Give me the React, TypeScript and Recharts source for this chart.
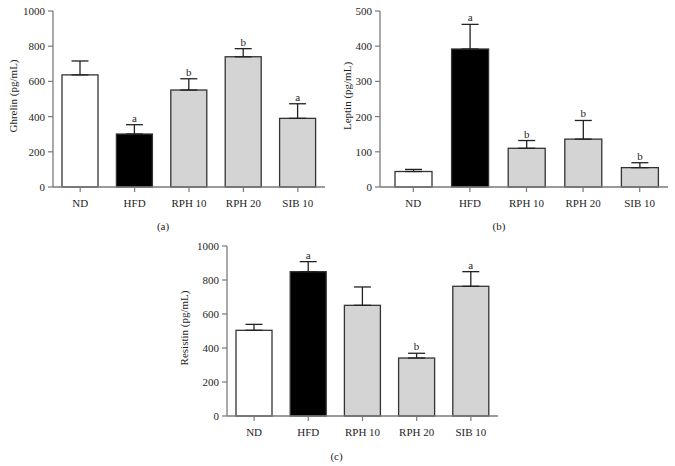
import React from 'react';
import { BarChart, Bar, XAxis, YAxis, ErrorBar, Cell } from 'recharts';

const categories = ['ND', 'HFD', 'RPH 10', 'RPH 20', 'SIB 10'];

const ghrelinMean = [637, 301, 551, 740, 390];
const ghrelinSem = [79, 53, 64, 46, 83];
const ghrelinLetters = ['', 'a', 'b', 'b', 'a'];
const ghrelinTicks = [0, 200, 400, 600, 800, 1000];

const leptinMean = [44, 392, 110, 136, 55];
const leptinSem = [6, 70, 22, 53, 14];
const leptinLetters = ['', 'a', 'b', 'b', 'b'];
const leptinTicks = [0, 100, 200, 300, 400, 500];

const resistinMean = [504, 849, 651, 341, 763];
const resistinSem = [35, 59, 108, 28, 86];
const resistinLetters = ['', 'a', '', 'b', 'a'];
const resistinTicks = [0, 200, 400, 600, 800, 1000];

const barColors = ['#ffffff', '#000000', '#d4d4d4', '#d4d4d4', '#d4d4d4'];

const FONT = '"Liberation Serif", "Times New Roman", serif';
const TEXT = '#1e1e1e';
const AXIS = '#7a7a7a';

const build = (mean: number[], sem: number[], letters: string[]) =>
  categories.map((name, i) => ({
    name,
    mean: mean[i],
    sem: sem[i],
    err: [0, sem[i]],
    letter: letters[i],
  }));

const ghrelinData = build(ghrelinMean, ghrelinSem, ghrelinLetters);
const leptinData = build(leptinMean, leptinSem, leptinLetters);
const resistinData = build(resistinMean, resistinSem, resistinLetters);

const BarShape = (props: any) => {
  const { x, y, width, height, payload, index } = props;
  const fill = props.fill || barColors[index];
  const capY = payload && payload.mean ? y - (payload.sem * height) / payload.mean : y;
  return (
    <g>
      <rect x={x} y={y} width={width} height={height} fill={fill} stroke="#333" strokeWidth={1.3} />
      {payload && payload.letter ? (
        <text
          x={x + width / 2}
          y={capY - 3}
          textAnchor="middle"
          fontSize={11}
          fontFamily={FONT}
          fill={TEXT}
        >
          {payload.letter}
        </text>
      ) : null}
    </g>
  );
};

type PanelProps = {
  data: any[];
  ticks: number[];
  yLabel: string;
  caption: string;
  left: number;
  top: number;
  width: number;
  height: number;
  margin: { top: number; right: number; bottom: number; left: number };
  yAxisWidth: number;
  yLabelX: number;
  captionDx: number;
  captionDy: number;
  barSize: number;
  padLeft: number;
};

const Panel = (p: PanelProps) => {
  const max = p.ticks[p.ticks.length - 1];
  return (
    <div style={{ position: 'absolute', left: p.left, top: p.top, width: p.width, height: p.height }}>
      <BarChart width={p.width} height={p.height} data={p.data} margin={p.margin} barSize={p.barSize}>
        <XAxis
          dataKey="name"
          height={30}
          padding={{ left: p.padLeft, right: 0 }}
          axisLine={{ stroke: AXIS, strokeWidth: 1.3 }}
          tickLine={{ stroke: AXIS, strokeWidth: 1.2 }}
          tickSize={5}
          tickMargin={7}
          interval={0}
          tick={{ fontSize: 11, fill: TEXT, fontFamily: FONT }}
          label={(lp: any) => {
            const vb = lp.viewBox || {};
            return (
              <text
                x={vb.x + vb.width / 2 + p.captionDx}
                y={vb.y + p.captionDy}
                textAnchor="middle"
                fontSize={11}
                fontFamily={FONT}
                fill={TEXT}
              >
                {p.caption}
              </text>
            );
          }}
        />
        <YAxis
          type="number"
          domain={[0, max]}
          ticks={p.ticks}
          interval={0}
          width={p.yAxisWidth}
          axisLine={{ stroke: AXIS, strokeWidth: 1.3 }}
          tickLine={{ stroke: AXIS, strokeWidth: 1.2 }}
          tickSize={5}
          tickMargin={3}
          tick={{ fontSize: 11, fill: TEXT, fontFamily: FONT }}
          label={(lp: any) => {
            const vb = lp.viewBox || {};
            const cx = p.yLabelX;
            const cy = vb.y + vb.height / 2 - 3;
            return (
              <text
                x={cx}
                y={cy}
                transform={`rotate(-90 ${cx} ${cy})`}
                textAnchor="middle"
                dominantBaseline="central"
                fontSize={11}
                fontFamily={FONT}
                fill={TEXT}
              >
                {p.yLabel}
              </text>
            );
          }}
        />
        <Bar dataKey="mean" isAnimationActive={false} shape={BarShape}>
          {p.data.map((d, i) => (
            <Cell key={d.name} fill={barColors[i]} />
          ))}
          <ErrorBar
            dataKey="err"
            direction="y"
            width={8.5}
            stroke="#222"
            strokeWidth={1.3}
            isAnimationActive={false}
          />
        </Bar>
      </BarChart>
    </div>
  );
};

export default function App() {
  return (
    <div
      style={{
        position: 'absolute',
        left: 0,
        top: 0,
        width: 675,
        height: 466,
        background: '#ffffff',
        overflow: 'hidden',
      }}
    >
      <Panel
        data={ghrelinData}
        ticks={ghrelinTicks}
        yLabel="Ghrelin (pg/mL)"
        caption="(a)"
        left={0}
        top={0}
        width={340}
        height={235}
        margin={{ top: 11, right: 15, bottom: 18, left: 0 }}
        yAxisWidth={53}
        yLabelX={13}
        captionDx={-26}
        captionDy={43}
        barSize={36}
        padLeft={0}
      />
      <Panel
        data={leptinData}
        ticks={leptinTicks}
        yLabel="Leptin (pg/mL)"
        caption="(b)"
        left={330}
        top={0}
        width={345}
        height={235}
        margin={{ top: 11, right: 7, bottom: 18, left: 0 }}
        yAxisWidth={50}
        yLabelX={17}
        captionDx={-25}
        captionDy={43}
        barSize={37}
        padLeft={5}
      />
      <Panel
        data={resistinData}
        ticks={resistinTicks}
        yLabel="Resistin (pg/mL)"
        caption="(c)"
        left={170}
        top={230}
        width={340}
        height={236}
        margin={{ top: 16, right: 12, bottom: 20, left: 0 }}
        yAxisWidth={57}
        yLabelX={14}
        captionDx={-26}
        captionDy={44}
        barSize={36}
        padLeft={0}
      />
    </div>
  );
}
